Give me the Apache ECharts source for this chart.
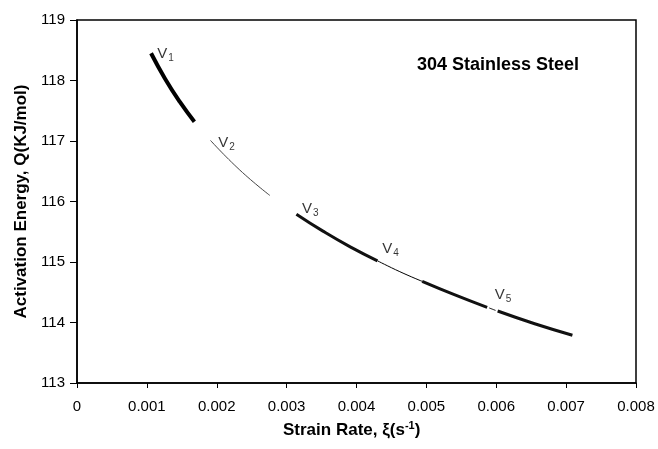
<!DOCTYPE html>
<html>
<head>
<meta charset="utf-8">
<script src="https://cdn.jsdelivr.net/npm/echarts@6/dist/echarts.min.js"></script>
<style>
  html, body { margin: 0; padding: 0; background: #fff; }
  #main { width: 658px; height: 449px; }
</style>
</head>
<body>
<div id="main"></div>
<script>
// curve pieces (strain rate, Q)
var segV1 = [[0.00106, 118.45], [0.00126, 118.03], [0.00147, 117.65], [0.00168, 117.32]];
var segV2 = [[0.00191, 117.01], [0.00233, 116.52], [0.00276, 116.10]];
var segV3 = [[0.00314, 115.79], [0.00352, 115.51], [0.00391, 115.25], [0.00430, 115.02]];
var segV4 = [[0.00430, 115.02], [0.00462, 114.84], [0.00494, 114.68]];
var segV4b = [[0.00494, 114.68], [0.00540, 114.46], [0.00587, 114.25]];
var segGap = [[0.00590, 114.24], [0.00599, 114.20]];
var segV5 = [[0.00602, 114.19], [0.00655, 113.98], [0.00709, 113.79]];

// V labels
var labelNames = ['1', '2', '3', '4', '5'];
var labelPos = [[0.00115, 118.36], [0.00202, 116.89], [0.00322, 115.80], [0.00437, 115.14], [0.00598, 114.39]];

var FONT = '"Liberation Sans", Arial, sans-serif';
var chart = echarts.init(document.getElementById('main'));

function seg(data, width, color) {
  return {
    type: 'line',
    data: data,
    smooth: true,
    symbol: 'none',
    silent: true,
    lineStyle: { width: width, color: color, cap: 'butt' }
  };
}

var labelData = [];
for (var i = 0; i < labelNames.length; i++) {
  labelData.push({ value: labelPos[i], name: labelNames[i] });
}

var option = {
  animation: false,
  title: [{
    text: '304 Stainless Steel',
    left: 412,
    top: 51,
    textStyle: { fontFamily: FONT, fontSize: 18, fontWeight: 'bold', color: '#000' }
  }, {
    text: 'Strain Rate, ξ(s{sup|-1})',
    left: 278,
    top: 415,
    textStyle: {
      fontFamily: FONT, fontSize: 17, fontWeight: 'bold', color: '#000',
      rich: {
        sup: { fontFamily: FONT, fontSize: 11, fontWeight: 'bold', color: '#000', verticalAlign: 'top', padding: [0, 0, 9, 0] }
      }
    }
  }],
  grid: {
    left: 77, right: 22, top: 20, bottom: 66,
    show: true, borderColor: '#000', borderWidth: 1.5, backgroundColor: '#fff'
  },
  xAxis: {
    type: 'value',
    min: 0, max: 0.008, interval: 0.001,
    axisLine: { lineStyle: { color: '#000', width: 1.5 } },
    axisTick: { show: true, length: 5, lineStyle: { color: '#000' } },
    splitLine: { show: false },
    axisLabel: {
      fontFamily: FONT, fontSize: 15, color: '#000', margin: 16,
      formatter: function(v) { return v === 0 ? '0' : v.toFixed(3); }
    }
  },
  yAxis: {
    type: 'value',
    min: 113, max: 119, interval: 1,
    name: 'Activation Energy, Q(KJ/mol)',
    nameLocation: 'middle',
    nameGap: 47,
    nameTextStyle: { fontFamily: FONT, fontSize: 17, fontWeight: 'bold', color: '#000' },
    axisLine: { show: true, lineStyle: { color: '#000', width: 1.5 } },
    axisTick: { show: true, length: 7, lineStyle: { color: '#000' } },
    splitLine: { show: false },
    axisLabel: { fontFamily: FONT, fontSize: 15, color: '#000', margin: 12 }
  },
  series: [
    seg(segV1, 4, '#000'),
    seg(segV2, 1, '#444'),
    seg(segV3, 3, '#111'),
    seg(segV4, 1, '#000'),
    seg(segV4b, 3, '#111'),
    seg(segGap, 1, '#000'),
    seg(segV5, 3, '#111'),
    {
      type: 'scatter',
      data: labelData,
      symbolSize: 0,
      silent: true,
      label: {
        show: true,
        position: [0, 0],
        offset: [0, 5],
        align: 'left',
        verticalAlign: 'bottom',
        formatter: function(p) { return '{v|V}{s|' + p.name + '}'; },
        rich: {
          v: { fontFamily: FONT, fontSize: 15, color: '#000', verticalAlign: 'bottom', padding: [0, 1, 2, 0] },
          s: { fontFamily: FONT, fontSize: 10, color: '#000', verticalAlign: 'bottom' }
        }
      }
    }
  ]
};
chart.setOption(option);
</script>
</body>
</html>
